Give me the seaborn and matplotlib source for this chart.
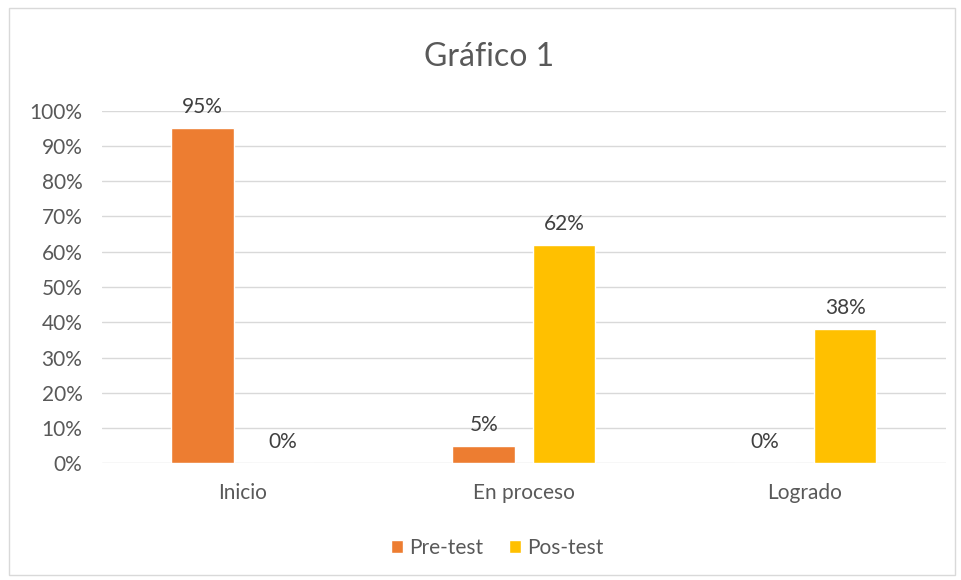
import pandas as pd
import seaborn as sns
import matplotlib.pyplot as plt
from matplotlib.patches import Rectangle

categorias = ["Inicio", "En proceso", "Logrado"]
pre_test = [0.95, 0.05, 0.00]
pos_test = [0.00, 0.62, 0.38]
yticks = [0, 0.1, 0.2, 0.3, 0.4, 0.5, 0.6, 0.7, 0.8, 0.9, 1.0]

df = pd.DataFrame({
    "Categoria": categorias * 2,
    "Valor": pre_test + pos_test,
    "Serie": ["Pre-test"] * 3 + ["Pos-test"] * 3,
})

sns.set_style("white")
plt.rcParams['font.family'] = ['Lato', 'DejaVu Sans']

fig = plt.figure(figsize=(9.62, 5.8), dpi=100)
ax = fig.add_axes([0.106, 0.2012, 0.877, 0.608])

mypal = {"Pre-test": "#ED7D31", "Pos-test": "#FFC000"}
sns.barplot(data=df, x="Categoria", y="Valor", hue="Serie", palette=mypal,
            width=0.57, gap=0.22, ax=ax, saturation=1, legend=True)

for cont in ax.containers:
    ax.bar_label(cont, labels=[f"{v*100:.0f}%" for v in cont.datavalues],
                 padding=8, fontsize=15, color="#404040")

ax.set_ylim(0, 1.0)
ax.set_xlim(-0.5, 2.5)
ax.set_yticks(yticks)
ax.set_yticklabels([f"{int(round(t*100))}%" for t in yticks])
ax.grid(axis="y", color="#D9D9D9", linewidth=1)
ax.set_axisbelow(True)
for s in ax.spines.values():
    s.set_visible(False)
ax.tick_params(axis="both", length=0, labelsize=15, colors="#595959")
ax.tick_params(axis="y", pad=14)
ax.tick_params(axis="x", pad=14)
ax.set_xlabel("")
ax.set_ylabel("")

fig.text(0.508, 0.902, "Gráfico 1", ha="center", va="center",
         fontsize=23, color="#595959")

handles, labels = ax.get_legend_handles_labels()
ax.legend(handles, labels, loc="center", bbox_to_anchor=(0.517, 0.055),
          bbox_transform=fig.transFigure, ncol=2, frameon=False,
          fontsize=15, labelcolor="#595959", handlelength=0.6,
          handleheight=0.6, handletextpad=0.3, columnspacing=1.2)

fig.patches.append(Rectangle((9/962, 5/580), 946/962, 567/580, transform=fig.transFigure,
                             fill=False, edgecolor="#D9D9D9", linewidth=1))

fig.savefig("out.png", dpi=100)
